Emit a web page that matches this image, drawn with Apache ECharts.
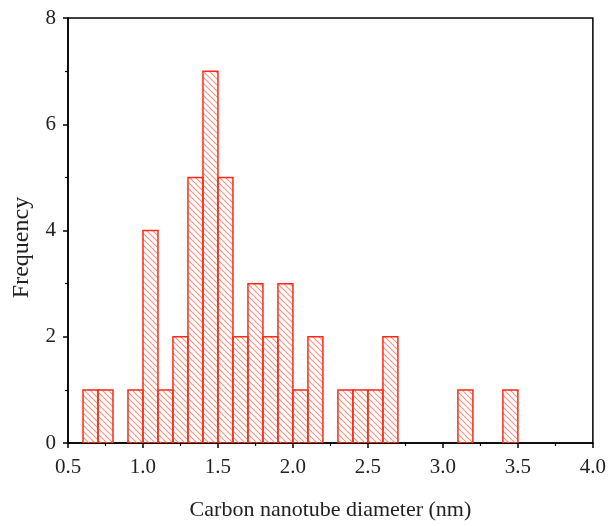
<!DOCTYPE html>
<html><head><meta charset="utf-8">
<script src="https://cdn.jsdelivr.net/npm/echarts@6/dist/echarts.min.js"></script>
<style>html,body{margin:0;padding:0;background:#fff}#c{width:609px;height:526px}</style>
</head><body><div id="c"></div>
<script>
const binStarts = [0.6,0.7,0.9,1.0,1.1,1.2,1.3,1.4,1.5,1.6,1.7,1.8,1.9,2.0,2.1,2.3,2.4,2.5,2.6,3.1,3.4];
const counts    = [1,  1,  1,  4,  1,  2,  5,  7,  5,  2,  3,  2,  3,  1,  2,  1,  1,  1,  2,  1,  1];
const binWidth = 0.1;
const xTicks = ['0.5','1.0','1.5','2.0','2.5','3.0','3.5','4.0'];
const yTicks = ['0','2','4','6','8'];

function makeHatch(){
  const c = document.createElement('canvas');
  const s = 6;
  c.width = s; c.height = s;
  const g = c.getContext('2d');
  g.strokeStyle = '#ff9080';
  g.lineWidth = 1.1;
  g.beginPath();
  g.moveTo(-1,-1); g.lineTo(s+1,s+1);
  g.moveTo(-1-s,-1); g.lineTo(1,s+1);
  g.moveTo(s-1,-1); g.lineTo(2*s+1,s+1);
  g.stroke();
  return c;
}
const hatch = makeHatch();
const data = binStarts.map((b,i)=>[b, b+binWidth, counts[i]]);
const font = '"Liberation Serif", "DejaVu Serif", serif';
const chart = echarts.init(document.getElementById('c'), null, {renderer:'canvas'});
chart.setOption({
  animation:false,
  backgroundColor:'#fff',
  grid:{left:68,right:15,top:18,bottom:83,show:true,borderColor:'#000',borderWidth:1.5,backgroundColor:'transparent'},
  xAxis:{type:'value',min:0.5,max:4.0,interval:0.5,
    name:'Carbon nanotube diameter (nm)',nameLocation:'middle',nameGap:56,
    nameTextStyle:{fontFamily:font,fontSize:22,color:'#222'},
    axisLine:{show:true,lineStyle:{color:'#000',width:1.5}},
    axisTick:{show:true,length:5,lineStyle:{color:'#000',width:1.5}},
    minorTick:{show:true,splitNumber:2,length:3,lineStyle:{color:'#000',width:1.2}},
    splitLine:{show:false},
    axisLabel:{margin:14,fontFamily:font,fontSize:21,color:'#222',formatter:(v)=>{const i=Math.round((v-0.5)/0.5);return xTicks[i]!==undefined?xTicks[i]:'';}}
  },
  yAxis:{type:'value',min:0,max:8,interval:2,
    name:'Frequency',nameLocation:'middle',nameGap:34,
    nameTextStyle:{fontFamily:font,fontSize:24,color:'#222',padding:[0,34,0,0]},
    axisLine:{show:true,lineStyle:{color:'#000',width:1.5}},
    axisTick:{show:true,length:5,lineStyle:{color:'#000',width:1.5}},
    minorTick:{show:true,splitNumber:2,length:3,lineStyle:{color:'#000',width:1.2}},
    splitLine:{show:false},
    axisLabel:{margin:12,fontFamily:font,fontSize:21,color:'#222',formatter:(v)=>{const i=Math.round(v/2);return yTicks[i]!==undefined?yTicks[i]:'';}}
  },
  series:[{
    type:'custom',
    data:data,
    encode:{x:[0,1],y:2},
    clip:true,
    renderItem:function(params,api){
      const p0 = api.coord([api.value(0), api.value(2)]);
      const p1 = api.coord([api.value(1), 0]);
      return {type:'rect',
        shape:{x:p0[0],y:p0[1],width:p1[0]-p0[0],height:p1[1]-p0[1]},
        style:{fill:{image:hatch,repeat:'repeat'},stroke:'#ff2a14',lineWidth:1.5}
      };
    }
  }]
});
</script></body></html>
